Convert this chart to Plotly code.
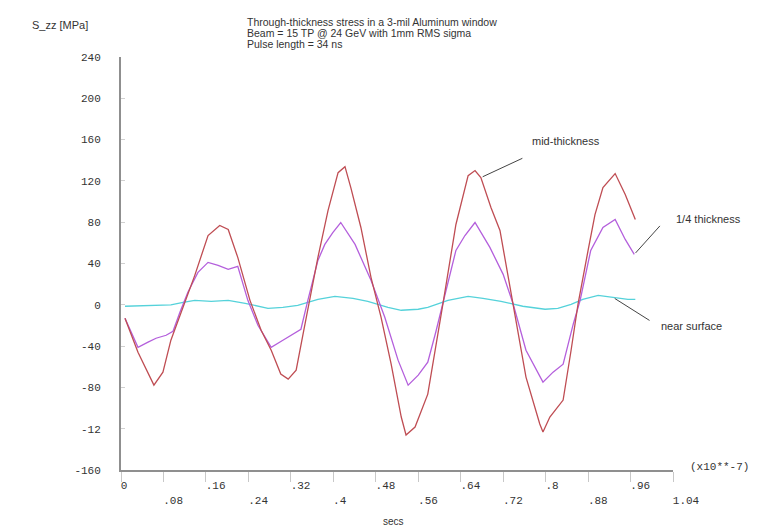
import plotly.graph_objects as go

# ---- data (time in units of 1e-7 s, stress in MPa) ----
t_mid = [0.0075, 0.032, 0.062, 0.079, 0.094, 0.117, 0.139, 0.164, 0.186, 0.202, 0.220, 0.243,
         0.264, 0.283, 0.301, 0.315, 0.330, 0.343, 0.356, 0.371, 0.390, 0.409, 0.422, 0.433,
         0.452, 0.471, 0.490, 0.509, 0.528, 0.537, 0.554, 0.578, 0.607, 0.631, 0.654, 0.667,
         0.678, 0.697, 0.714, 0.739, 0.763, 0.789, 0.795, 0.808, 0.833, 0.848, 0.861, 0.880,
         0.893, 0.908, 0.931, 0.950, 0.969]
s_mid = [-13.0, -45.9, -77.8, -65.2, -34.3, -2.4, 28.5, 67.1, 76.8, 72.9, 45.9, 4.3,
         -24.6, -44.0, -67.1, -72.0, -63.3, -28.5, 7.2, 45.9, 91.3, 128.0, 133.8, 113.5,
         74.9, 26.6, -12.1, -57.5, -108.7, -126.1, -118.4, -86.5, 2.4, 77.8, 125.1, 130.0,
         123.2, 94.2, 72.0, 0.5, -70.0, -115.5, -123.2, -108.7, -92.3, -44.0, 0.5, 52.7,
         87.4, 113.5, 127.1, 106.8, 82.6]

t_quarter = [0.0075, 0.032, 0.051, 0.066, 0.085, 0.098, 0.111, 0.126, 0.145, 0.164, 0.183, 0.202,
             0.220, 0.239, 0.258, 0.283, 0.305, 0.324, 0.339, 0.352, 0.371, 0.384, 0.399, 0.414,
             0.441, 0.471, 0.497, 0.522, 0.541, 0.560, 0.578, 0.593, 0.607, 0.631, 0.648, 0.667,
             0.695, 0.720, 0.739, 0.763, 0.795, 0.814, 0.833, 0.852, 0.865, 0.885, 0.908, 0.931,
             0.950, 0.967]
s_quarter = [-13.0, -41.1, -36.2, -32.4, -29.5, -25.6, -7.2, 12.1, 31.4, 41.1, 38.2, 34.3,
             37.2, 4.3, -19.8, -41.1, -34.3, -28.5, -23.7, 4.3, 43.0, 58.5, 70.0, 79.7,
             58.5, 23.7, -12.1, -53.6, -77.8, -68.1, -55.6, -26.6, 2.4, 52.7, 67.1, 79.7,
             55.6, 29.5, 0.5, -44.0, -74.9, -65.2, -57.5, -18.8, 4.3, 52.7, 74.9, 82.6,
             63.3, 48.8]

t_surf = [0.0075, 0.032, 0.057, 0.094, 0.117, 0.139, 0.170, 0.202, 0.234, 0.277, 0.305, 0.333,
          0.371, 0.403, 0.437, 0.465, 0.503, 0.528, 0.560, 0.578, 0.616, 0.654, 0.682, 0.716,
          0.757, 0.799, 0.823, 0.848, 0.870, 0.899, 0.927, 0.955, 0.969]
s_surf = [-1.4, -1.0, -0.5, 0.0, 2.4, 4.3, 3.4, 4.3, 1.4, -3.4, -2.4, -0.5,
          5.3, 8.2, 6.3, 3.4, -2.4, -5.3, -4.3, -2.4, 4.3, 8.2, 6.3, 3.4,
          -1.4, -4.3, -3.4, 0.5, 5.3, 9.2, 7.2, 5.3, 5.3]

x_ticks = [0, 0.08, 0.16, 0.24, 0.32, 0.40, 0.48, 0.56, 0.64, 0.72, 0.80, 0.88, 0.96, 1.04]
x_tick_labels = ["0", ".08", ".16", ".24", ".32", ".4", ".48", ".56", ".64", ".72", ".8", ".88", ".96", "1.04"]
y_ticks = [240, 200, 160, 120, 80, 40, 0, -40, -80, -120, -160]
y_tick_labels = ["240", "200", "160", "120", "80", "40", "0", "-40", "-80", "-12", "-160"]

title_lines = ["Through-thickness stress in a 3-mil Aluminum window",
               "Beam = 15 TP @ 24 GeV with 1mm RMS sigma",
               "Pulse length = 34 ns"]

# ---- styles ----
C_MID = "#bf4d53"
C_QTR = "#b45fdc"
C_SURF = "#55d2da"
AX = "#8f8f8f"
TXT = "#333333"
MONO = "Liberation Mono, DejaVu Sans Mono, monospace"
SANS = "Liberation Sans, Arial, sans-serif"

NB = "\u00a0"
fs = 11
xt = []
for i, lab in enumerate(x_tick_labels):
    padded = lab + NB * (4 - len(lab))
    xt.append(padded if i % 2 == 0 else "<br>" + padded)

fig = go.Figure()
fig.add_trace(go.Scatter(x=t_surf, y=s_surf, mode="lines", line=dict(color=C_SURF, width=1.3),
                         name="near surface", hoverinfo="skip"))
fig.add_trace(go.Scatter(x=t_quarter, y=s_quarter, mode="lines", line=dict(color=C_QTR, width=1.3),
                         name="1/4 thickness", hoverinfo="skip"))
fig.add_trace(go.Scatter(x=t_mid, y=s_mid, mode="lines", line=dict(color=C_MID, width=1.3),
                         name="mid-thickness", hoverinfo="skip"))

fig.update_xaxes(range=[0, 1.04], showgrid=False, zeroline=False, showline=True,
                 linecolor=AX, linewidth=2, ticks="outside", ticklen=10, tickcolor="#c8c8c8",
                 tickwidth=1, tickvals=x_ticks, ticktext=xt,
                 tickfont=dict(family=MONO, size=fs, color=TXT),
                 ticklabelshift=int(round(4 * 0.6 * fs / 2)), ticklabelstandoff=-6)
fig.update_yaxes(range=[-160, 240], showgrid=False, zeroline=False, showline=True,
                 linecolor=AX, linewidth=2, ticks="inside", ticklen=4, tickcolor="#d0d0d0",
                 tickwidth=1, tickvals=y_ticks, ticktext=y_tick_labels,
                 tickfont=dict(family=MONO, size=fs, color=TXT), ticklabelstandoff=16)

# pixel helpers for paper coordinates (plot area: x 113..665, y 49..462)
def px(x):
    return (x - 113) / 552.0

def py(y):
    return (462 - y) / 413.0

ann = []
ann.append(dict(xref="paper", yref="paper", x=px(22), y=py(17), xanchor="left", yanchor="middle",
                text="S_zz [MPa]", showarrow=False, font=dict(family=SANS, size=11, color=TXT)))
for k, line in enumerate(title_lines):
    ann.append(dict(xref="paper", yref="paper", x=px(237), y=py(14 + 11 * k), xanchor="left",
                    yanchor="middle", text=line, showarrow=False,
                    font=dict(family=SANS, size=10.5, color=TXT)))
ann.append(dict(xref="paper", yref="paper", x=px(711), y=py(459), xanchor="center", yanchor="middle",
                text="(x10**-7)", showarrow=False, font=dict(family=MONO, size=fs, color=TXT)))
ann.append(dict(xref="paper", yref="paper", x=px(385), y=py(513), xanchor="center", yanchor="middle",
                text="secs", showarrow=False, font=dict(family=SANS, size=10, color=TXT)))

# series labels with leader lines pointing at points of the series
labels = [
    ("mid-thickness", t_mid[36], s_mid[36], 43, -20, px(558), py(133)),
    ("1/4 thickness", t_quarter[-1], s_quarter[-1], 27, -30, px(700), py(211)),
    ("near surface", t_surf[-3], s_surf[-3], 38, 24, px(683), py(318)),
]
for text, lx, ly, ax, ay, tx, ty in labels:
    ann.append(dict(x=lx, y=ly, xref="x", yref="y", text="", showarrow=True, arrowhead=0,
                    arrowwidth=1, arrowcolor="#444444", ax=ax, ay=ay, standoff=2))
    ann.append(dict(xref="paper", yref="paper", x=tx, y=ty, xanchor="center", yanchor="middle",
                    text=text, showarrow=False, font=dict(family=SANS, size=11, color=TXT)))

fig.update_layout(width=758, height=526, margin=dict(l=113, r=93, t=49, b=64),
                  paper_bgcolor="white", plot_bgcolor="white", showlegend=False,
                  annotations=ann)

fig.write_html("out.html")
